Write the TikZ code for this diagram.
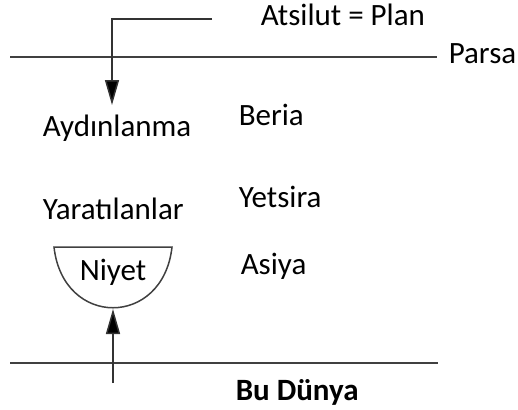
\documentclass[tikz,border=0pt]{standalone}
\usepackage{fontspec}
\setmainfont{Carlito}
\usetikzlibrary{arrows.meta}
\begin{document}
\begin{tikzpicture}[x=0.5pt, y=-0.5pt, line width=0.75pt, font=\fontsize{15.5}{18}\selectfont, lbl/.style = {inner sep=0pt, anchor=base west}, arr/.style = {draw=black!80, -{Triangle[length=12.5pt, width=7pt, fill=black]}}, rule/.style = {draw=black!75}] 
\useasboundingbox (0,0) rectangle (518,409);
\node[lbl] (atsilut) at (260,25) {Atsilut = Plan}; 
\node[lbl] (parsa) at (448,63) {Parsa}; 
\node[lbl] (aydin) at (42,136) {Aydınlanma}; 
\node[lbl] (beria) at (238,125) {Beria}; 
\node[lbl] (yarat) at (42,219) {Yaratılanlar}; 
\node[lbl] (yetsira) at (238,207) {Yetsira}; 
\node[lbl] (asiya) at (240,274) {Asiya}; 
\node[inner sep=0pt, anchor=base] (niyet) at (113,280) {Niyet}; 
\node[lbl] (dunya) at (235,400) {\bfseries Bu Dünya}; 
\coordinate (plan) at (212,19); 
\coordinate (down) at (112,105); 
\coordinate (bowl) at (113,309); 
\coordinate (here) at (113,383); 
\draw[rule] (10,57) -- (437,57); 
\draw[rule] (10,363) -- (438,363); 
\draw[rule] (54,247) .. controls (63,328) and (163,328) .. (172,247) -- cycle; 
\draw[arr] (plan) -| (down); 
\draw[arr] (here) -- (bowl); 
\end{tikzpicture}
\end{document}
